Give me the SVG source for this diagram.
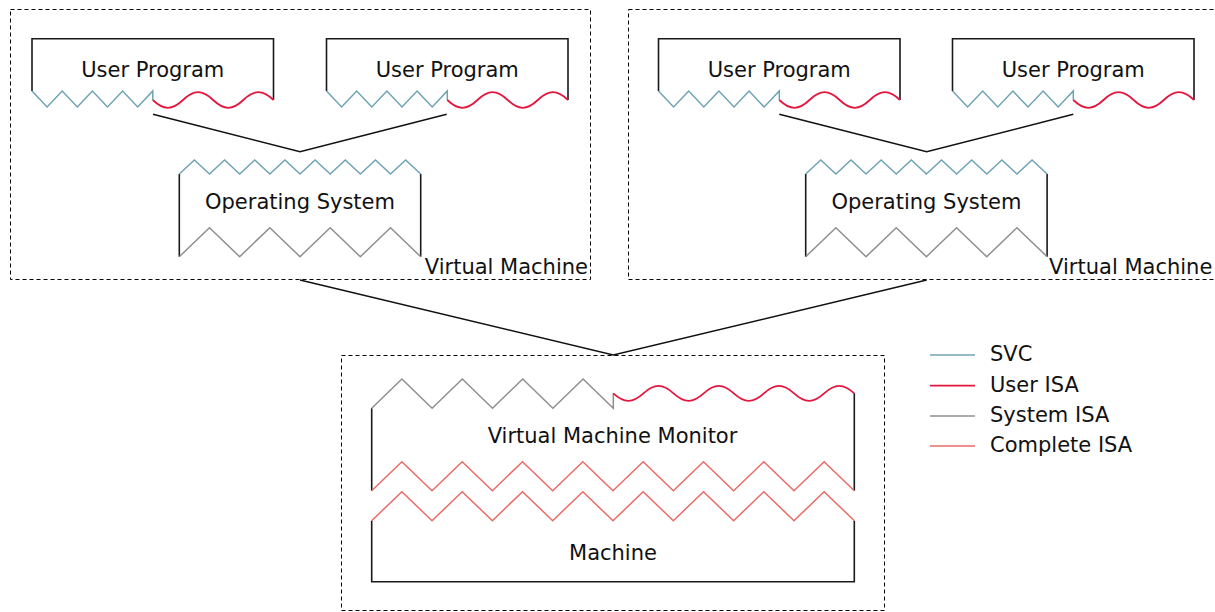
<svg xmlns="http://www.w3.org/2000/svg" xmlns:xlink="http://www.w3.org/1999/xlink" width="1215" height="612" viewBox="0 0 1215 612">
<style>
.lbl{font-family:"DejaVu Sans",Verdana,sans-serif;font-size:21px;fill:#111;text-anchor:middle}
.lgd{font-family:"DejaVu Sans",Verdana,sans-serif;font-size:21px;fill:#111}
.vm{font-family:"DejaVu Sans",Verdana,sans-serif;font-size:21px;fill:#111;text-anchor:end}
.blk{fill:none;stroke:#1a1a1a;stroke-width:1.6}
.dash{fill:none;stroke:#000;stroke-width:1;stroke-dasharray:4 3}
.svc{fill:none;stroke:#6fa3b3;stroke-width:1.5}
.uisa{fill:none;stroke:#e3173e;stroke-width:1.8}
.sisa{fill:none;stroke:#8f8f8f;stroke-width:1.5}
.cisa{fill:none;stroke:#ea6b66;stroke-width:1.5}
.conn{fill:none;stroke:#111;stroke-width:1.5}
</style>
<defs>
<g id="upShape">
<path class="blk" d="M0,52.3 V0 H241.5 V61.3"/>
<path class="svc" d="M0,52.3 l15.1,16 l15.1,-16 l15.1,16 l15.1,-16 l15.1,16 l15.1,-16 l15.1,16 l15.1,-16 V61.3"/>
<path class="uisa" d="M120.8,61.3 c11,10.4 19.2,10.4 30.175,0 c11,-10.4 19.2,-10.4 30.175,0 c11,10.4 19.2,10.4 30.175,0 c11,-10.4 19.2,-10.4 30.175,0"/>
</g>
<g id="osShape">
<path class="blk" d="M0,14 V96.7 M241.4,14 V96.7"/>
<path class="svc" d="M0,14 l15.09,-14 l15.09,14 l15.09,-14 l15.09,14 l15.09,-14 l15.09,14 l15.09,-14 l15.09,14 l15.09,-14 l15.09,14 l15.09,-14 l15.09,14 l15.09,-14 l15.09,14 l15.09,-14 l15.09,14"/>
<path class="sisa" d="M0,96.7 l30.175,-29 l30.175,29 l30.175,-29 l30.175,29 l30.175,-29 l30.175,29 l30.175,-29 l30.175,29"/>
</g>
</defs>

<g id="vm-1">
<rect class="dash" x="10.5" y="9.5" width="580" height="270"/>
<text class="vm" x="588" y="273.5">Virtual Machine</text>
</g>
<g id="vm-2">
<rect class="dash" x="628.5" y="9.5" width="588" height="270"/>
<text class="vm" x="1212.3" y="273.5">Virtual Machine</text>
</g>
<g id="vmm-container">
<rect class="dash" x="341.5" y="355.5" width="543" height="255"/>
</g>

<g id="user-program-1" transform="translate(32,38.7)">
<use xlink:href="#upShape" href="#upShape"/>
<text class="lbl" x="120.75" y="38">User Program</text>
</g>
<g id="user-program-2" transform="translate(326.5,38.7)">
<use xlink:href="#upShape" href="#upShape"/>
<text class="lbl" x="120.75" y="38">User Program</text>
</g>
<g id="user-program-3" transform="translate(658.5,38.7)">
<use xlink:href="#upShape" href="#upShape"/>
<text class="lbl" x="120.75" y="38">User Program</text>
</g>
<g id="user-program-4" transform="translate(952.5,38.7)">
<use xlink:href="#upShape" href="#upShape"/>
<text class="lbl" x="120.75" y="38">User Program</text>
</g>

<g id="os-1" transform="translate(179.3,160)">
<use xlink:href="#osShape" href="#osShape"/>
<text class="lbl" x="120.7" y="48.5">Operating System</text>
</g>
<g id="os-2" transform="translate(805.7,160)">
<use xlink:href="#osShape" href="#osShape"/>
<text class="lbl" x="120.7" y="48.5">Operating System</text>
</g>

<g id="vmm">
<path class="blk" d="M371.7,408.3 V490.7 M854.3,393.3 V490.7"/>
<path class="sisa" d="M371.7,408.3 l30.2,-29.3 l30.2,29.3 l30.2,-29.3 l30.2,29.3 l30.2,-29.3 l30.2,29.3 l30.2,-29.3 l30.2,29.3 V393.3"/>
<path class="uisa" d="M613.3,393.3 c11,10 19.1,10 30.125,0 c11,-10 19.1,-10 30.125,0 c11,10 19.1,10 30.125,0 c11,-10 19.1,-10 30.125,0 c11,10 19.1,10 30.125,0 c11,-10 19.1,-10 30.125,0 c11,10 19.1,10 30.125,0 c11,-10 19.1,-10 30.125,0"/>
<path class="cisa" d="M371.7,490.7 l30.1625,-29 l30.1625,29 l30.1625,-29 l30.1625,29 l30.1625,-29 l30.1625,29 l30.1625,-29 l30.1625,29 l30.1625,-29 l30.1625,29 l30.1625,-29 l30.1625,29 l30.1625,-29 l30.1625,29 l30.1625,-29 l30.1625,29"/>
<text class="lbl" x="612.5" y="442.5">Virtual Machine Monitor</text>
</g>

<g id="machine">
<path class="blk" d="M371.7,520.7 V581.7 H854.3 V520.7"/>
<path class="cisa" d="M371.7,520.7 l30.1625,-29 l30.1625,29 l30.1625,-29 l30.1625,29 l30.1625,-29 l30.1625,29 l30.1625,-29 l30.1625,29 l30.1625,-29 l30.1625,29 l30.1625,-29 l30.1625,29 l30.1625,-29 l30.1625,29 l30.1625,-29 l30.1625,29"/>
<text class="lbl" x="613" y="560">Machine</text>
</g>

<g id="connectors">
<path class="conn" d="M153,114.3 L300,151.7 L446.7,114.3"/>
<path class="conn" d="M779.3,114.3 L926.7,151.7 L1073.3,114.3"/>
<path class="conn" d="M300,280 L613.3,355 L926.7,280"/>
</g>

<g id="legend">
<line class="svc" x1="930" y1="355" x2="975" y2="355"/>
<text class="lgd" x="990" y="361">SVC</text>
<line class="uisa" x1="930" y1="385.7" x2="975" y2="385.7"/>
<text class="lgd" x="990" y="391.5">User ISA</text>
<line class="sisa" x1="930" y1="416" x2="975" y2="416"/>
<text class="lgd" x="990" y="421.5">System ISA</text>
<line class="cisa" x1="930" y1="446" x2="975" y2="446"/>
<text class="lgd" x="990" y="451.5">Complete ISA</text>
</g>
</svg>
